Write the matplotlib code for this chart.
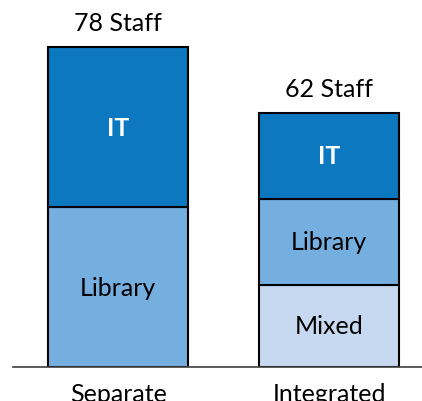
import matplotlib
matplotlib.use("Agg")
import matplotlib.pyplot as plt

plt.rcParams['font.family'] = ['Lato', 'DejaVu Sans']

categories = ["Separate", "Integrated"]
segment_names = ["Mixed", "Library", "IT"]
mixed = [0, 20]
library = [39, 21]
it = [39, 21]
totals = [78, 62]
total_labels = ["78 Staff", "62 Staff"]

colors = {"Mixed": "#c6d9f0", "Library": "#74afe0", "IT": "#0b78c0"}
text_colors = {"Mixed": "black", "Library": "black", "IT": "white"}

W, H = 422, 402
fig = plt.figure(figsize=(W / 100, H / 100), dpi=100)
ax = fig.add_axes([13 / W, 34 / H, 409 / W, 368 / H])

x = range(len(categories))
bottoms = [0] * len(categories)
for name, values in zip(segment_names, [mixed, library, it]):
    for i, v in enumerate(values):
        if v == 0:
            continue
        ax.bar(i, v, bottom=bottoms[i], width=0.664, color=colors[name],
               edgecolor="black", linewidth=1.5)
        ax.text(i, bottoms[i] + v / 2, name, ha="center", va="center",
                fontsize=18, color=text_colors[name],
                fontweight="bold" if name == "IT" else "normal")
    bottoms = [b + v for b, v in zip(bottoms, values)]

for i, (t, lab) in enumerate(zip(totals, total_labels)):
    ax.text(i, t + 4.2, lab, ha="center", va="baseline", fontsize=18)

ax.set_xlim(-0.498, 1.44)
ax.set_ylim(0, 368 / 4.1)
ax.set_xticks(list(x))
ax.set_xticklabels(categories, fontsize=18)
ax.tick_params(axis="x", length=0, pad=11)
ax.set_yticks([])
for side in ["top", "right", "left"]:
    ax.spines[side].set_visible(False)
ax.spines["bottom"].set_color("#404040")
ax.spines["bottom"].set_linewidth(1.2)

fig.savefig("out.png", dpi=100)
